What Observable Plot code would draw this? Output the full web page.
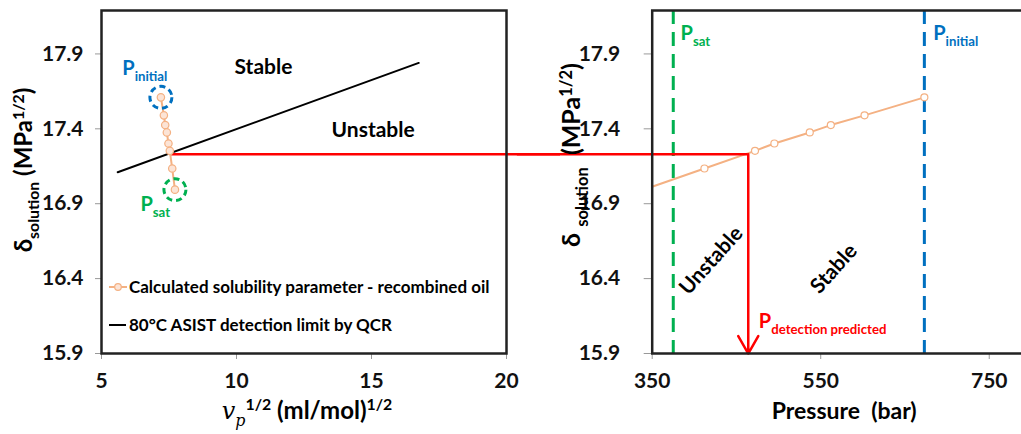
<!DOCTYPE html>
<html><head><meta charset="utf-8">
<script src="https://cdn.jsdelivr.net/npm/d3@7"></script>
<script src="https://cdn.jsdelivr.net/npm/@observablehq/plot@0.6"></script>
<style>
html,body{margin:0;padding:0;background:#fff;overflow:hidden;}
#wrap{position:relative;width:1021px;height:434px;overflow:hidden;font-family:Lato,sans-serif;}
#left,#right{position:absolute;top:0;}
#left{left:0;width:560px;} #right{left:520px;width:563px;}
#left svg,#right svg{max-width:none !important;}
.legend{position:absolute;left:108px;font-weight:bold;font-size:17px;color:#000;display:flex;align-items:center;white-space:nowrap;line-height:20px;}
.legend svg{margin-right:1px;}
</style></head><body>
<div id="wrap"><div id="left"></div><div id="right"></div>
<div class="legend" style="top:277px"><svg width="20" height="12"><line x1="1" x2="19" y1="6" y2="6" stroke="#F4B183" stroke-width="2"/><circle cx="10" cy="6" r="3.3" fill="#FCE4D6" stroke="#F4B183" stroke-width="1.2"/></svg><span>Calculated solubility parameter - recombined oil</span></div>
<div class="legend" style="top:315px"><svg width="20" height="12"><line x1="1" x2="18" y1="6" y2="6" stroke="#000" stroke-width="2"/></svg><span>80°C ASIST detection limit by QCR</span></div>
</div>
<script>
// ---- data ----
const yTicks = [15.9, 16.4, 16.9, 17.4, 17.9];
const vpTicks = [5, 10, 15, 20];
const pTicks = [350, 550, 750];
// calculated solubility parameter (recombined oil), P_initial first ... P_sat last
const delta = [17.61, 17.49, 17.425, 17.376, 17.302, 17.253, 17.135, 16.994];
const vp = [7.20, 7.31, 7.36, 7.42, 7.48, 7.53, 7.62, 7.72];
const pressure = [673, 602, 562, 537, 495, 472, 412, 340];
// QCR detection limit line
const qcrVp = [5.6, 16.75];
const qcrDelta = [17.11, 17.84];
// reference pressures
const pSat = 375;
const pInitial = 673;
// detection prediction
const detectDelta = 17.23;
const detectVp = 7.57;
const detectP = 464;

const idx = d3.range(delta.length);
const qIdx = d3.range(qcrVp.length);
const RED = "#FF0000", ORANGE = "#F4B183", BLUE = "#0070C0", GREEN = "#00B050";
const baseStyle = {fontFamily: "Lato, sans-serif", fontWeight: "bold", fontSize: "21px", background: "transparent", overflow: "visible", color: "#000"};
const yDomain = [15.9, 18.19];
const tf = d3.format(".1f");

const left = Plot.plot({
  width: 560, height: 434, marginLeft: 101, marginRight: 54, marginTop: 10, marginBottom: 81,
  x: {domain: [5, 20]}, y: {domain: yDomain},
  style: baseStyle,
  marks: [
    Plot.axisX({ticks: vpTicks, tickSize: 6, tickPadding: 14, stroke: "#999", fill: "#111", fontSize: 21, fontWeight: "bold", label: null}),
    Plot.axisY({ticks: yTicks, tickFormat: tf, tickSize: 6, tickPadding: 12, stroke: "#999", fill: "#111", fontSize: 21, fontWeight: "bold", label: null}),
    Plot.line(qIdx, {x: i => qcrVp[i], y: i => qcrDelta[i], stroke: "#000", strokeWidth: 2}),
    Plot.ruleY([detectDelta], {x1: () => detectVp, x2: () => 22, stroke: RED, strokeWidth: 2.5}),
    Plot.line(idx, {x: i => vp[i], y: i => delta[i], stroke: ORANGE, strokeWidth: 2}),
    Plot.dot(idx, {x: i => vp[i], y: i => delta[i], r: 3.7, stroke: ORANGE, fill: "#FCE4D6", strokeWidth: 1.2}),
    Plot.dot([0], {x: () => vp[0], y: () => delta[0], r: 11, stroke: BLUE, strokeWidth: 3, strokeDasharray: "6,4", fill: "none"}),
    Plot.dot([0], {x: () => vp[vp.length-1], y: () => delta[delta.length-1], r: 11, stroke: GREEN, strokeWidth: 3, strokeDasharray: "6,4", fill: "none"}),
    Plot.text(["Stable"], {x: () => 11.0, y: () => 17.81, text: d => d, fontSize: 21, fontWeight: "bold", fill: "#000"}),
    Plot.text(["Unstable"], {x: () => 15.06, y: () => 17.39, text: d => d, fontSize: 21, fontWeight: "bold", fill: "#000"}),
    Plot.text(["P_{initial}"], {x: () => 5.77, y: () => 17.805, text: d => d, textAnchor: "start", fontSize: 20, fontWeight: "bold", fill: BLUE}),
    Plot.text(["P_{sat}"], {x: () => 6.44, y: () => 16.896, text: d => d, textAnchor: "start", fontSize: 20, fontWeight: "bold", fill: GREEN}),
    Plot.text(["δ_{solution} (MPa^{1/2})"], {frameAnchor: "left", textAnchor: "middle", lineAnchor: "middle", dx: -77, dy: -12, rotate: -90, text: d => d, fontSize: 24, fontWeight: "bold", fill: "#000"}),
    Plot.text(["$\{v}%\{p}^{1/2} (ml/mol)^{1/2}"], {frameAnchor: "bottom", dx: 3, dy: 65, text: d => d, fontSize: 24, fontWeight: "bold", fill: "#000"}),
    Plot.frame({stroke: "#222", strokeWidth: 2.5})
  ]
});

const right = Plot.plot({
  width: 563, height: 434, marginLeft: 131.7, marginRight: 10, marginTop: 10, marginBottom: 81,
  x: {domain: [350, 850]}, y: {domain: yDomain},
  style: baseStyle,
  marks: [
    Plot.axisX({ticks: pTicks, tickSize: 6, tickPadding: 14, stroke: "#999", fill: "#111", fontSize: 21, fontWeight: "bold", label: null}),
    Plot.axisY({ticks: yTicks, tickFormat: tf, tickSize: 8, tickPadding: 24, stroke: "#999", fill: "#111", fontSize: 21, fontWeight: "bold", label: null}),
    Plot.ruleX([pSat], {stroke: GREEN, strokeWidth: 3, strokeDasharray: "14,8"}),
    Plot.ruleX([pInitial], {stroke: BLUE, strokeWidth: 3, strokeDasharray: "14,8"}),
    Plot.line(idx, {x: i => pressure[i], y: i => delta[i], stroke: ORANGE, strokeWidth: 2, clip: true}),
    Plot.dot(idx, {x: i => pressure[i], y: i => delta[i], r: 3.5, stroke: ORANGE, fill: "white", strokeWidth: 1.2, clip: true}),
    Plot.ruleY([detectDelta], {x1: () => 190, x2: () => detectP, stroke: RED, strokeWidth: 2.5}),
    Plot.arrow([0], {x1: () => detectP, y1: () => detectDelta, x2: () => detectP, y2: () => 15.9, stroke: RED, strokeWidth: 2.5, headLength: 12}),
    Plot.text(["P_{sat}"], {x: () => 383.6, y: () => 18.034, text: d => d, textAnchor: "start", fontSize: 20, fontWeight: "bold", fill: GREEN}),
    Plot.text(["P_{initial}"], {x: () => 683.5, y: () => 18.034, text: d => d, textAnchor: "start", fontSize: 20, fontWeight: "bold", fill: BLUE}),
    Plot.text(["P_{detection predicted}"], {x: () => 476.5, y: () => 16.11, text: d => d, textAnchor: "start", fontSize: 20, fontWeight: "bold", fill: RED}),
    Plot.text(["Unstable"], {x: () => 420, y: () => 16.52, rotate: -48, text: d => d, fontSize: 21, fontWeight: "bold", fill: "#000"}),
    Plot.text(["Stable"], {x: () => 565.6, y: () => 16.466, rotate: -48, text: d => d, fontSize: 21, fontWeight: "bold", fill: "#000"}),
    Plot.text(["δ\u00a0_{solution}\u00a0 (MPa^{1/2})"], {frameAnchor: "left", textAnchor: "middle", lineAnchor: "middle", dx: -80, dy: -27, rotate: -90, text: d => d, fontSize: 25, fontWeight: "bold", fill: "#000"}),
    Plot.text(["Pressure\u00a0 (bar)"], {frameAnchor: "bottom-left", dx: 192, dy: 65, textAnchor: "middle", text: d => d, fontSize: 23, fontWeight: "bold", fill: "#000"}),
    Plot.frame({stroke: "#222", strokeWidth: 2.5})
  ]
});

document.getElementById("left").appendChild(left);
document.getElementById("right").appendChild(right);

function richify(root) {
  const NS = "http://www.w3.org/2000/svg";
  root.querySelectorAll("text").forEach(t => {
    const s = t.textContent;
    if (!/[_^%$]\{/.test(s)) return;
    const fs = parseFloat(getComputedStyle(t).fontSize) || 20;
    const re = /([_^%$])\{([^}]*)\}|([^_^%$]+)/g;
    t.textContent = "";
    let cur = 0, m;
    while ((m = re.exec(s))) {
      const ts = document.createElementNS(NS, "tspan");
      const kind = m[1];
      const txt = kind ? m[2] : m[3];
      let off = 0, size = null, italic = false;
      if (kind === "_" || kind === "%") { off = 0.3 * fs; size = 0.66 * fs; }
      else if (kind === "^") { off = -0.34 * fs; size = 0.66 * fs; }
      if (kind === "%" || kind === "$") italic = true;
      if (off !== cur) ts.setAttribute("dy", off - cur);
      cur = off;
      if (size) ts.setAttribute("font-size", size);
      if (italic) { ts.setAttribute("font-family", "DejaVu Serif"); ts.setAttribute("font-style", "italic"); ts.setAttribute("font-weight", "normal"); }
      ts.textContent = txt;
      t.appendChild(ts);
    }
  });
}
richify(left); richify(right);
</script>
</body></html>
